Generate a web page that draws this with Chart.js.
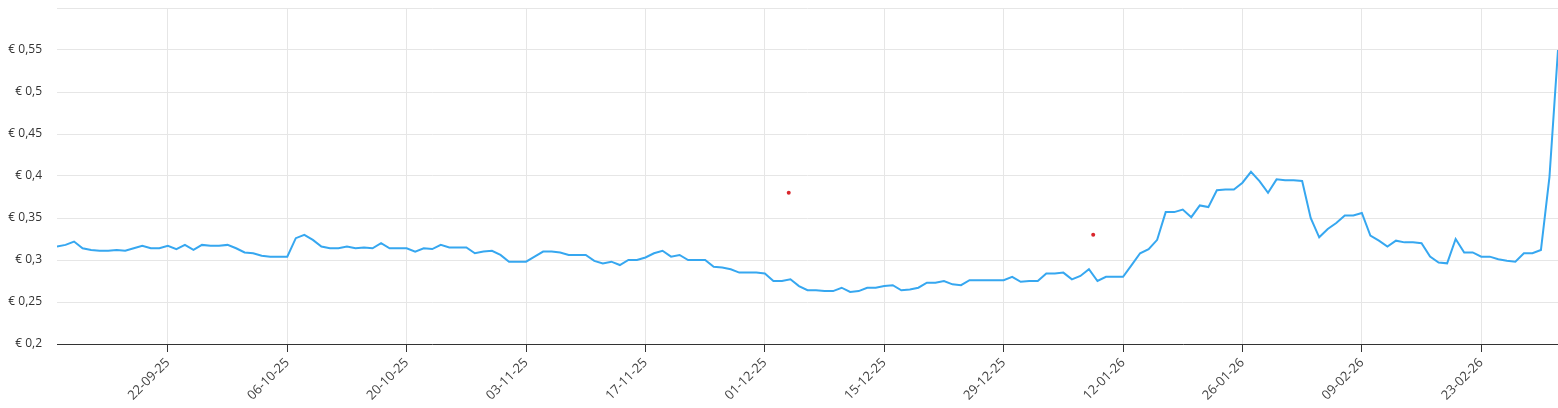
<!DOCTYPE html>
<html>
<head>
<meta charset="utf-8">
<script src="https://cdn.jsdelivr.net/npm/chart.js@4"></script>
<style>
  body { margin: 0; background: #fff; }
  #wrap { width: 1558px; height: 408px; }
</style>
</head>
<body>
<div id="wrap"><canvas id="chart"></canvas></div>
<script>
// first day of the series, one price per day after that
const startDate = '2025-09-09';

const prices = [
  0.316, 0.318, 0.322, 0.314, 0.312, 0.311, 0.311, 0.312, 0.311, 0.314,
  0.317, 0.314, 0.314, 0.317, 0.313, 0.318, 0.312, 0.318, 0.317, 0.317,
  0.318, 0.314, 0.309, 0.308, 0.305, 0.304, 0.304, 0.304, 0.326, 0.330,
  0.324, 0.316, 0.314, 0.314, 0.316, 0.314, 0.315, 0.314, 0.320, 0.314,
  0.314, 0.314, 0.310, 0.314, 0.313, 0.318, 0.315, 0.315, 0.315, 0.308,
  0.310, 0.311, 0.306, 0.298, 0.298, 0.298, 0.304, 0.310, 0.310, 0.309,
  0.306, 0.306, 0.306, 0.299, 0.296, 0.298, 0.294, 0.300, 0.300, 0.303,
  0.308, 0.311, 0.304, 0.306, 0.300, 0.300, 0.300, 0.292, 0.291, 0.289,
  0.285, 0.285, 0.285, 0.284, 0.275, 0.275, 0.277, 0.269, 0.264, 0.264,
  0.263, 0.263, 0.267, 0.262, 0.263, 0.267, 0.267, 0.269, 0.270, 0.264,
  0.265, 0.267, 0.273, 0.273, 0.275, 0.271, 0.270, 0.276, 0.276, 0.276,
  0.276, 0.276, 0.280, 0.274, 0.275, 0.275, 0.284, 0.284, 0.285, 0.277,
  0.281, 0.289, 0.275, 0.280, 0.280, 0.280, 0.294, 0.308, 0.313, 0.324,
  0.357, 0.357, 0.360, 0.351, 0.365, 0.363, 0.383, 0.384, 0.384, 0.392,
  0.405, 0.394, 0.380, 0.396, 0.395, 0.395, 0.394, 0.350, 0.327, 0.337,
  0.344, 0.353, 0.353, 0.356, 0.329, 0.323, 0.316, 0.323, 0.321, 0.321,
  0.320, 0.304, 0.297, 0.296, 0.325, 0.309, 0.309, 0.304, 0.304, 0.301,
  0.299, 0.298, 0.308, 0.308, 0.312, 0.399, 0.550
];

// the two loose red points (day offset from startDate, price)
const markerDays = [85.8, 121.5];
const markerValues = [0.380, 0.330];

const tickLabels = [
  '22-09-25', '06-10-25', '20-10-25', '03-11-25', '17-11-25', '01-12-25',
  '15-12-25', '29-12-25', '12-01-26', '26-01-26', '09-02-26', '23-02-26'
];

const DAY = 86400000;
const start = Date.parse(startDate + 'T00:00:00Z');

function labelToDay(label) {
  const [d, m, y] = label.split('-').map(Number);
  return Math.round((Date.UTC(2000 + y, m - 1, d) - start) / DAY);
}

function dayToLabel(day) {
  const dt = new Date(start + day * DAY);
  const dd = String(dt.getUTCDate()).padStart(2, '0');
  const mm = String(dt.getUTCMonth() + 1).padStart(2, '0');
  const yy = String(dt.getUTCFullYear()).slice(2);
  return dd + '-' + mm + '-' + yy;
}

const tickDays = tickLabels.map(labelToDay);
const yFont = { family: "'Open Sans', sans-serif", size: 12 };
const xFont = { family: "'Open Sans', sans-serif", size: 13 };

const ctx = document.getElementById('chart').getContext('2d');
new Chart(ctx, {
  type: 'line',
  data: {
    datasets: [{
      data: prices.map((v, i) => ({ x: i, y: v })),
      borderColor: 'rgb(54, 167, 240)',
      borderWidth: 2,
      pointRadius: 0,
      tension: 0,
      fill: false
    }, {
      data: markerDays.map((d, i) => ({ x: d, y: markerValues[i] })),
      showLine: false,
      pointRadius: 2,
      pointBorderWidth: 0,
      pointBackgroundColor: '#d9262c',
      borderColor: '#d9262c'
    }]
  },
  options: {
    responsive: true,
    maintainAspectRatio: false,
    animation: false,
    layout: { autoPadding: false, padding: { top: 8, right: 0, left: 0, bottom: 0 } },
    plugins: {
      legend: { display: false },
      tooltip: { enabled: false }
    },
    scales: {
      x: {
        type: 'linear',
        min: 0,
        max: prices.length - 1,
        afterBuildTicks: scale => {
          scale.ticks = tickDays.map(v => ({ value: v }));
        },
        afterFit: scale => {
          scale.height = 64;
          scale.paddingLeft = 0;
          scale.paddingRight = 0;
        },
        grid: { color: '#e6e6e6', tickColor: '#333', tickLength: 8 },
        border: { color: '#333' },
        ticks: {
          minRotation: 45,
          maxRotation: 45,
          color: '#444',
          font: xFont,
          callback: v => dayToLabel(v)
        }
      },
      y: {
        min: 0.2,
        max: 0.6,
        afterFit: scale => {
          scale.width = 57;
          scale.paddingTop = 0;
          scale.paddingBottom = 0;
        },
        grid: { color: '#e6e6e6', drawTicks: false },
        border: { display: false },
        ticks: {
          stepSize: 0.05,
          padding: 15,
          color: '#333',
          font: yFont,
          callback: v => v > 0.599 ? '' : '€ ' + String(Number(v.toFixed(2))).replace('.', ',')
        }
      }
    }
  }
});
</script>
</body>
</html>
